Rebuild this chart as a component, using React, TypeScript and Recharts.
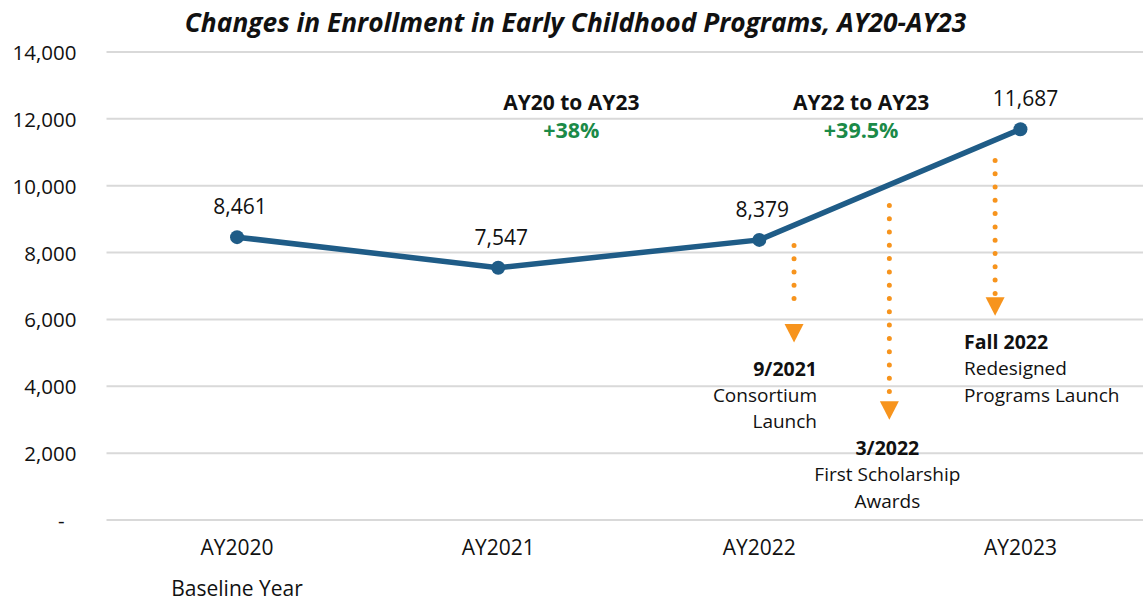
import React from "react";
import {
  LineChart,
  Line,
  XAxis,
  YAxis,
  CartesianGrid,
  ReferenceLine,
  ReferenceDot,
} from "recharts";

const categories = ["AY2020", "AY2021", "AY2022", "AY2023"];
const enrollment = [8461, 7547, 8379, 11687];
const yTicks = [0, 2000, 4000, 6000, 8000, 10000, 12000, 14000];
const subTickLabels = ["Baseline Year", "", "", ""];

// Milestone arrows: x in category units, dotted segment from top to bottom, triangle tip at tip
const milestoneX = [2.133, 2.498, 2.903];
const milestoneTop = [8215, 9411, 10757];
const milestoneBottom = [6231, 3817, 6770];
const milestoneTip = [5313, 3000, 6112];

const milestoneTitles = ["9/2021", "3/2022", "Fall 2022"];
const milestoneLines = [
  ["Consortium", "Launch"],
  ["First Scholarship", "Awards"],
  ["Redesigned", "Programs Launch"],
];

const changeTitles = ["AY20 to AY23", "AY22 to AY23"];
const changeValues = ["+38%", "+39.5%"];
const changeX = [1.28, 2.39];
const changeY = [12500, 12500];

const FONT = "'Open Sans', Lato, sans-serif";
const BLUE = "#1F5C87";
const ORANGE = "#F7941D";
const GREEN = "#1B8A48";
const TEXT = "#111";

const data = categories.map((c, i) => ({ x: i, name: c, value: enrollment[i] }));

const XTick = (props: any) => {
  const { x, y, payload } = props;
  const i = payload.value as number;
  return (
    <g>
      <text x={x} y={y + 19} textAnchor="middle" dominantBaseline="central" fontFamily={FONT} fontSize={21} fill={TEXT}>
        {categories[i]}
      </text>
      {subTickLabels[i] ? (
        <text x={x} y={y + 60} textAnchor="middle" dominantBaseline="central" fontFamily={FONT} fontSize={21} fill={TEXT}>
          {subTickLabels[i]}
        </text>
      ) : null}
    </g>
  );
};

const YTick = (props: any) => {
  const { x, y, payload } = props;
  const v = payload.value as number;
  const label = v === 0 ? "-" : v.toLocaleString("en-US");
  return (
    <text x={x} y={y} textAnchor="end" dominantBaseline="central" fontFamily={FONT} fontSize={20.5} fill={TEXT} dx={v === 0 ? -12 : 0}>
      {label}
    </text>
  );
};

const ValueLabel = (props: any) => {
  const { x, y, value, index } = props;
  return (
    <text x={x + (index === 3 ? 5 : 3)} y={y - 31} textAnchor="middle" dominantBaseline="central" fontFamily={FONT} fontSize={21} fill={TEXT}>
      {Number(value).toLocaleString("en-US")}
    </text>
  );
};

const Triangle = (props: any) => {
  const { cx, cy } = props;
  const w = 9.5;
  const h = 18.5;
  return <polygon points={`${cx - w},${cy - h} ${cx + w},${cy - h} ${cx},${cy}`} fill={ORANGE} />;
};

const makeMilestoneText = (i: number) => (props: any) => {
  const { cx, cy } = props;
  let anchor: "start" | "middle" | "end" = "middle";
  let tx = cx;
  let ty = cy;
  if (i === 0) {
    anchor = "end";
    tx = cx + 23;
    ty = cy + 26;
  } else if (i === 1) {
    anchor = "middle";
    tx = cx - 2;
    ty = cy + 28;
  } else {
    anchor = "start";
    tx = cx - 31;
    ty = cy + 26;
  }
  return (
    <g>
      <text x={tx} y={ty} textAnchor={anchor} dominantBaseline="central" fontFamily={FONT} fontSize={19.5} fontWeight={700} fill={TEXT}>
        {milestoneTitles[i]}
      </text>
      {milestoneLines[i].map((l, k) => (
        <text key={k} x={tx} y={ty + 26.5 * (k + 1)} textAnchor={anchor} dominantBaseline="central" fontFamily={FONT} fontSize={19} fill={TEXT}>
          {l}
        </text>
      ))}
    </g>
  );
};

const makeChangeText = (i: number) => (props: any) => {
  const { cx, cy } = props;
  return (
    <g>
      <text x={cx} y={cy} textAnchor="middle" dominantBaseline="central" fontFamily={FONT} fontSize={21} fontWeight={700} fill={TEXT}>
        {changeTitles[i]}
      </text>
      <text x={cx} y={cy + 27} textAnchor="middle" dominantBaseline="central" fontFamily={FONT} fontSize={21.5} fontWeight={700} fill={GREEN}>
        {changeValues[i]}
      </text>
    </g>
  );
};

export default function App() {
  return (
    <div style={{ position: "fixed", left: 0, top: 0, width: 1143, height: 600, overflow: "hidden", background: "#fff" }}>
      <div
        style={{
          position: "absolute",
          left: 0,
          top: 7,
          width: 1151,
          textAlign: "center",
          fontFamily: FONT,
          fontSize: 26.3,
          fontWeight: 700,
          fontStyle: "italic",
          color: TEXT,
          lineHeight: "30px",
        }}
      >
        Changes in Enrollment in Early Childhood Programs, AY20-AY23
      </div>
      <div style={{ position: "absolute", left: 0, top: 0 }}>
        <LineChart width={1151} height={600} data={data} margin={{ top: 52, right: 0, bottom: 50, left: 0 }}>
          <CartesianGrid horizontal vertical={false} stroke="#D9D9D9" strokeWidth={2} />
          <XAxis
            dataKey="x"
            type="number"
            domain={[-0.5, 3.5]}
            ticks={[0, 1, 2, 3]}
            axisLine={false}
            tickLine={false}
            height={30}
            tick={<XTick />}
            interval={0}
          />
          <YAxis
            type="number"
            domain={[0, 14000]}
            ticks={yTicks}
            axisLine={false}
            tickLine={false}
            width={106.5}
            tickMargin={24}
            tick={<YTick />}
            interval={0}
          />
          {milestoneX.map((mx, i) => (
            <ReferenceLine
              key={`ml${i}`}
              segment={[
                { x: mx, y: milestoneTop[i] },
                { x: mx, y: milestoneBottom[i] },
              ]}
              stroke={ORANGE}
              strokeWidth={5}
              strokeLinecap="round"
              strokeDasharray="0 13.3"
              ifOverflow="visible"
            />
          ))}
          {milestoneX.map((mx, i) => (
            <ReferenceDot key={`mt${i}`} x={mx} y={milestoneTip[i]} r={0} shape={<Triangle />} ifOverflow="visible" />
          ))}
          {milestoneX.map((mx, i) => (
            <ReferenceDot key={`mtx${i}`} x={mx} y={milestoneTip[i]} r={0} shape={makeMilestoneText(i)} ifOverflow="visible" />
          ))}
          {changeX.map((cx, i) => (
            <ReferenceDot key={`ch${i}`} x={cx} y={changeY[i]} r={0} shape={makeChangeText(i)} ifOverflow="visible" />
          ))}
          <Line
            dataKey="value"
            stroke={BLUE}
            strokeWidth={5.5}
            dot={{ r: 7, fill: BLUE, stroke: BLUE, strokeWidth: 0 }}
            activeDot={false}
            isAnimationActive={false}
            label={<ValueLabel />}
          />
        </LineChart>
      </div>
    </div>
  );
}
